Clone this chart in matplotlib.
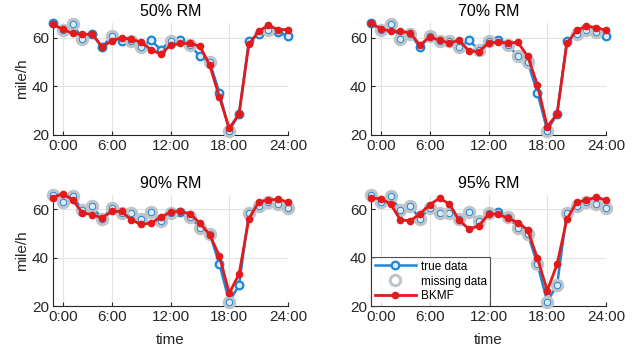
import numpy as np
import matplotlib
matplotlib.use("Agg")
import matplotlib.pyplot as plt

plt.rcParams['font.family'] = ['Liberation Sans', 'DejaVu Sans']

hours = list(range(25))
tick_pos = [1, 6, 12, 18, 24]
tick_labels = ['0:00', '6:00', '12:00', '18:00', '24:00']

true_data = [65.8, 63.0, 65.6, 59.6, 61.5, 56.0, 60.7, 58.6, 58.5, 56.0, 58.9, 55.1, 58.6,
             58.9, 56.9, 52.4, 50.0, 37.3, 21.8, 28.6, 58.5, 61.4, 63.3, 62.1, 60.7]

titles = ['50% RM', '70% RM', '90% RM', '95% RM']

bkmf_50 = [65.4, 63.4, 61.7, 61.3, 61.5, 56.2, 58.6, 60.0, 59.3, 58.2, 55.1, 53.2, 56.9,
           57.6, 57.6, 56.5, 48.7, 35.5, 22.7, 28.6, 57.2, 62.6, 65.0, 63.3, 63.3]
bkmf_70 = [66.0, 63.7, 62.6, 62.6, 61.9, 56.9, 60.3, 58.9, 57.8, 58.9, 54.6, 54.2, 57.8,
           58.1, 57.8, 58.0, 52.4, 40.5, 23.4, 28.6, 57.6, 63.0, 64.7, 64.1, 63.0]
bkmf_90 = [64.9, 66.6, 64.0, 58.6, 57.9, 56.5, 59.2, 59.2, 55.7, 53.8, 54.4, 56.8, 58.9,
           59.3, 58.2, 54.3, 49.6, 40.6, 25.3, 33.2, 56.1, 63.1, 64.0, 64.2, 63.1]
bkmf_95 = [64.7, 64.5, 62.3, 55.7, 55.3, 58.2, 62.0, 64.7, 62.3, 55.5, 51.9, 53.2, 58.0,
           58.2, 56.3, 54.6, 51.5, 39.7, 26.4, 37.2, 55.9, 63.0, 63.8, 65.2, 63.8]

missing_50 = [1, 2, 3, 6, 8, 9, 12, 14, 16, 18, 22]
missing_70 = [1, 2, 3, 4, 6, 7, 8, 9, 11, 12, 14, 15, 16, 18, 21, 22, 23]
missing_90 = [i for i in range(25) if i not in (13, 17, 19)]
missing_95 = [i for i in range(25) if i not in (13,)]

bkmf_all = [bkmf_50, bkmf_70, bkmf_90, bkmf_95]
missing_all = [missing_50, missing_70, missing_90, missing_95]

BLUE = '#1f86d8'
RED = '#e31a1c'
GRAY = '#bfc4c9'
AXC = '#262626'

W, H = 644, 356
fig = plt.figure(figsize=(W / 100, H / 100), dpi=100)

rects = [
    (53, 23, 288, 135),
    (371, 23, 606, 135),
    (53, 195, 288, 306),
    (371, 195, 606, 306),
]

for k, (l, t, r, b) in enumerate(rects):
    ax = fig.add_axes([l / W, 1 - b / H, (r - l) / W, (b - t) / H])
    x = np.array(hours)
    yt = np.array(true_data)
    miss = missing_all[k]
    ax.plot(x, yt, '-o', color=BLUE, lw=1.8, ms=5.5, mfc='#dcecf8', mec=BLUE, mew=1.6,
            clip_on=False, zorder=3, label='true data')
    ax.plot(x[miss], yt[miss], 'o', ls='none', ms=7.5, mfc='none', mec=GRAY, mew=2.2,
            clip_on=False, zorder=4, label='missing data')
    ax.plot(x, bkmf_all[k], '-o', color=RED, lw=2.0, ms=4.5, mfc=RED, mec=RED,
            clip_on=False, zorder=5, label='BKMF')
    ax.set_xlim(0, 24)
    ax.set_ylim(20, 66)
    ax.set_xticks(tick_pos)
    ax.set_xticklabels(tick_labels)
    ax.set_yticks([20, 40, 60])
    ax.grid(True, color='#e3e3e3', lw=0.8)
    ax.set_axisbelow(True)
    for s in ['top', 'right']:
        ax.spines[s].set_visible(False)
    for s in ['left', 'bottom']:
        ax.spines[s].set_color(AXC)
        ax.spines[s].set_linewidth(0.8)
    ax.tick_params(direction='in', length=3, width=0.8, colors=AXC, labelsize=11,
                   labelcolor=AXC, pad=3)
    ax.set_title(titles[k], fontsize=11.5, color='black', pad=5)
    if k in (0, 2):
        ax.set_ylabel('mile/h', fontsize=11, color=AXC, labelpad=2)
    if k in (2, 3):
        ax.set_xlabel('time', fontsize=11, color=AXC, labelpad=6)
    if k == 3:
        leg = ax.legend(loc='lower left', fontsize=8.5, frameon=True, fancybox=False,
                        borderaxespad=0.0, handlelength=3.5, handletextpad=0.4,
                        borderpad=0.3, labelspacing=0.25)
        leg.get_frame().set_edgecolor(AXC)
        leg.get_frame().set_linewidth(0.8)
        leg.set_zorder(10)

fig.savefig('out.png', dpi=100)
